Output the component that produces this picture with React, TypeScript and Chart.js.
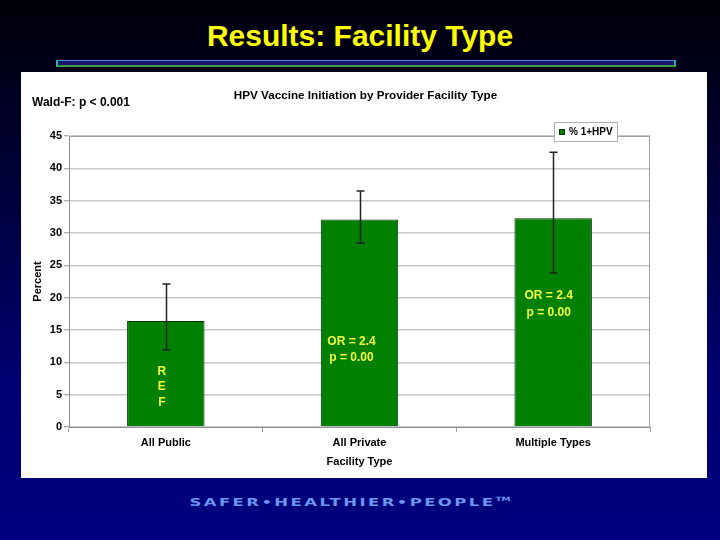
import { useEffect, useRef } from "react";
import { Chart, registerables } from "chart.js";

Chart.register(...registerables);

const slideTitle = "Results: Facility Type";
const chartTitle = "HPV Vaccine Initiation by Provider Facility Type";
const testNote = "Wald-F: p < 0.001";
const footerText = "SAFER\u2022HEALTHIER\u2022PEOPLE";
const categories = ["All Public", "All Private", "Multiple Types"];
const seriesLabel = "% 1+HPV";
const percentValues = [16.4, 32.1, 32.3];
const ciLower = [11.9, 28.4, 23.8];
const ciUpper = [22.1, 36.5, 42.5];
const yTickValues = [0, 5, 10, 15, 20, 25, 30, 35, 40, 45];
const annotationLines = [
  ["R", "E", "F"],
  ["OR = 2.4", "p = 0.00"],
  ["OR = 2.4", "p = 0.00"],
];
const annotationYValues = [
  [8.5, 6.2, 3.7],
  [13.2, 10.7],
  [20.3, 17.7],
];

const FONT = "'Liberation Sans', Arial, sans-serif";
const BAR_GREEN = "#008000";
const ANNOT_OFFSETS = [-4, -8, -4.5];

const overlayPlugin = {
  id: "overlay",
  afterDatasetsDraw(chart: any) {
    const ctx = chart.ctx;
    const xs = chart.scales.x;
    const ys = chart.scales.y;
    ctx.save();
    ctx.fillStyle = "#f4ff3a";
    ctx.font = `bold 12px ${FONT}`;
    ctx.textAlign = "center";
    ctx.textBaseline = "middle";
    annotationLines.forEach((lines, i) => {
      const cx = xs.getPixelForValue(i) + ANNOT_OFFSETS[i];
      lines.forEach((t, j) => {
        ctx.fillText(t, cx, ys.getPixelForValue(annotationYValues[i][j]));
      });
    });
    ctx.strokeStyle = "#222";
    ctx.lineWidth = 1.5;
    categories.forEach((_, i) => {
      const cx = Math.round(xs.getPixelForValue(i)) + 0.5;
      const yl = ys.getPixelForValue(ciLower[i]);
      const yh = ys.getPixelForValue(ciUpper[i]);
      ctx.beginPath();
      ctx.moveTo(cx, yl);
      ctx.lineTo(cx, yh);
      ctx.moveTo(cx - 4, yl);
      ctx.lineTo(cx + 4, yl);
      ctx.moveTo(cx - 4, yh);
      ctx.lineTo(cx + 4, yh);
      ctx.stroke();
    });
    ctx.restore();
  },
  afterDraw(chart: any) {
    const ctx = chart.ctx;
    const a = chart.chartArea;
    ctx.save();
    ctx.strokeStyle = "#a0a0a0";
    ctx.lineWidth = 1;
    ctx.beginPath();
    ctx.moveTo(a.left, a.top + 0.5);
    ctx.lineTo(a.right - 0.5, a.top + 0.5);
    ctx.lineTo(a.right - 0.5, a.bottom);
    ctx.stroke();
    ctx.fillStyle = "#000";
    ctx.textBaseline = "middle";
    ctx.font = `bold 12px ${FONT}`;
    ctx.textAlign = "left";
    ctx.fillText(testNote, 11, 31);
    ctx.font = `bold 11.7px ${FONT}`;
    ctx.textAlign = "center";
    ctx.fillText(chartTitle, 344.5, 24);
    const lx = a.right - 96;
    const ly = a.top - 14;
    ctx.fillStyle = "#fff";
    ctx.fillRect(lx, ly, 64, 19);
    ctx.strokeStyle = "#b0b0b0";
    ctx.strokeRect(lx + 0.5, ly + 0.5, 63, 19);
    ctx.fillStyle = BAR_GREEN;
    ctx.fillRect(lx + 5, ly + 7, 6, 6);
    ctx.strokeStyle = "#003300";
    ctx.strokeRect(lx + 5.5, ly + 7.5, 5, 5);
    ctx.fillStyle = "#000";
    ctx.font = `bold 10px ${FONT}`;
    ctx.textAlign = "left";
    ctx.fillText(seriesLabel, lx + 15, ly + 10.5);
    ctx.restore();
  },
};

function BarChart() {
  const ref = useRef<HTMLCanvasElement>(null);
  useEffect(() => {
    if (!ref.current) return;
    const chart = new Chart(ref.current, {
      type: "bar",
      data: {
        labels: categories,
        datasets: [
          {
            label: seriesLabel,
            data: percentValues,
            backgroundColor: BAR_GREEN,
            borderColor: "#003300",
            borderWidth: 1,
            barPercentage: 0.8,
            categoryPercentage: 0.5,
          },
        ],
      },
      options: {
        animation: false,
        responsive: false,
        devicePixelRatio: 1,
        layout: { padding: { left: 0, top: 64, right: 57, bottom: 0 } },
        plugins: {
          legend: { display: false },
          tooltip: { enabled: false },
          title: { display: false },
        },
        scales: {
          x: {
            grid: {
              display: true,
              drawOnChartArea: false,
              drawTicks: true,
              offset: true,
              tickLength: 5,
              color: "#a0a0a0",
            },
            border: { color: "#909090" },
            ticks: {
              color: "#000",
              font: { family: FONT, size: 11, weight: "bold" },
              padding: 4,
              maxRotation: 0,
            },
            title: {
              display: true,
              text: "Facility Type",
              color: "#000",
              font: { family: FONT, size: 11, weight: "bold" },
              padding: { top: 0, bottom: 9 },
            },
            afterFit: (s: any) => {
              s.height = 51;
            },
          },
          y: {
            min: 0,
            max: 45,
            afterBuildTicks: (s: any) => {
              s.ticks = yTickValues.map((v) => ({ value: v }));
            },
            grid: {
              color: "#c8c8c8",
              lineWidth: 1.5,
              tickLength: 5,
              tickColor: "#909090",
              tickWidth: 1,
            },
            border: { color: "#909090" },
            ticks: {
              color: "#000",
              font: { family: FONT, size: 11, weight: "bold" },
              padding: 2,
            },
            title: {
              display: true,
              text: "Percent",
              color: "#000",
              font: { family: FONT, size: 11, weight: "bold" },
              padding: { top: 10, bottom: 0 },
            },
            afterFit: (s: any) => {
              s.width = 48;
            },
          },
        },
      } as any,
      plugins: [overlayPlugin],
    });
    return () => chart.destroy();
  }, []);
  return <canvas ref={ref} width={686} height={406} style={{ display: "block" }} />;
}

export default function App() {
  return (
    <div
      style={{
        position: "fixed",
        left: 0,
        top: 0,
        width: 720,
        height: 540,
        overflow: "hidden",
        background: "linear-gradient(to bottom, #000008 0%, #00003a 35%, #000070 70%, #000080 100%)",
      }}
    >
      <div
        style={{
          position: "absolute",
          left: 0,
          top: 18,
          width: 720,
          textAlign: "center",
          color: "#ffff00",
          font: `bold 30px 'Liberation Sans Narrow', 'Liberation Sans', Arial, sans-serif`,
          lineHeight: "36px",
        }}
      >
        {slideTitle}
      </div>
      <div
        style={{
          position: "absolute",
          left: 56,
          top: 60,
          width: 620,
          height: 7,
          boxSizing: "border-box",
          background: "#15156a",
          borderTop: "1px solid #4a8ad8",
          borderBottom: "2px solid #3a9a4a",
          borderLeft: "2px solid #3aaa9a",
          borderRight: "2px solid #3aaa9a",
        }}
      />
      <div
        style={{
          position: "absolute",
          left: 21,
          top: 72,
          width: 686,
          height: 406,
          background: "#fff",
        }}
      >
        <BarChart />
      </div>
      <div
        style={{
          position: "absolute",
          left: -10,
          top: 491,
          width: 720,
          textAlign: "center",
        }}
      >
        <span
          style={{
            display: "inline-block",
            color: "#6a98f0",
            font: `bold 11px 'DejaVu Sans', sans-serif`,
            letterSpacing: "1.6px",
            lineHeight: "16px",
            transform: "scaleX(1.5)",
            whiteSpace: "nowrap",
          }}
        >
          {footerText}
          <sup style={{ fontSize: 6, letterSpacing: 0 }}>TM</sup>
        </span>
      </div>
    </div>
  );
}
